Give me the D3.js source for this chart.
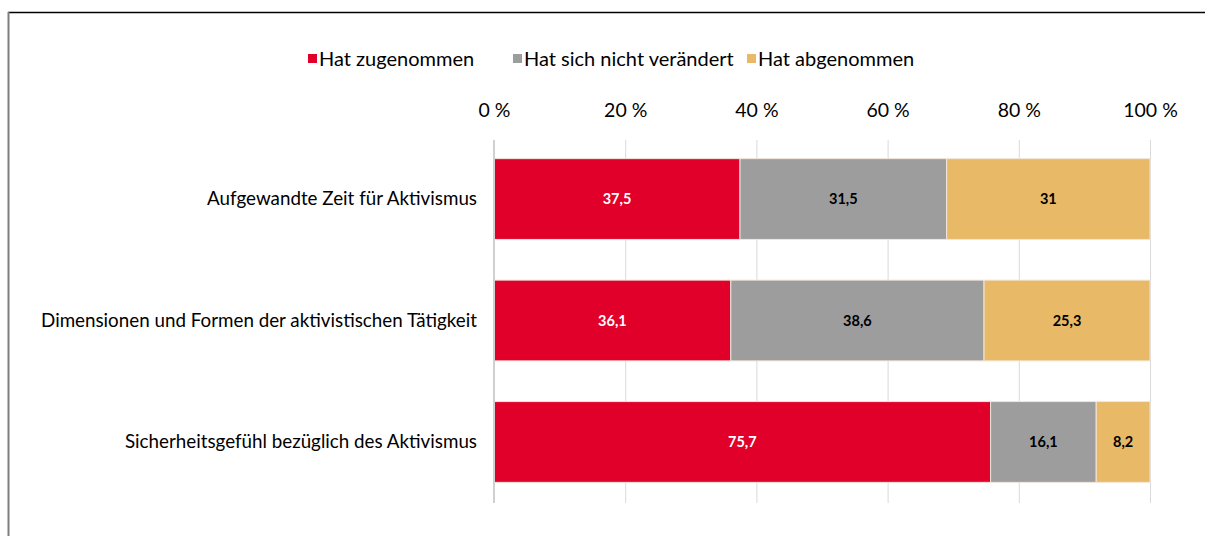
<!DOCTYPE html>
<html>
<head>
<meta charset="utf-8">
<script src="https://cdn.jsdelivr.net/npm/d3@7"></script>
<style>
  body { margin: 0; background: #fff; }
  svg { display: block; font-family: Lato, "Open Sans", sans-serif; }
</style>
</head>
<body>
<svg id="chart" width="1205" height="536"></svg>
<script>
// data
const categories = [
    'Aufgewandte Zeit für Aktivismus',
    'Dimensionen und Formen der aktivistischen Tätigkeit',
    'Sicherheitsgefühl bezüglich des Aktivismus'
]
const seriesNames = ['Hat zugenommen', 'Hat sich nicht verändert', 'Hat abgenommen']
const zugenommen = [37.5, 36.1, 75.7]
const nichtVeraendert = [31.5, 38.6, 16.1]
const abgenommen = [31, 25.3, 8.2]
const xTicks = [0, 20, 40, 60, 80, 100]

const colors = ['#e1002a', '#9d9d9e', '#e8b967']
const labelColors = ['#ffffff', '#000000', '#000000']

const rows = categories.map((c, i) => ({
    cat: c,
    [seriesNames[0]]: zugenommen[i],
    [seriesNames[1]]: nichtVeraendert[i],
    [seriesNames[2]]: abgenommen[i]
}))

const svg = d3.select('#chart')

// frame
svg.append('line')
    .attr('x1', 8).attr('x2', 1205).attr('y1', 12.5).attr('y2', 12.5)
    .style('stroke', '#000').style('stroke-width', 1.5)
svg.append('line')
    .attr('x1', 8.5).attr('x2', 8.5).attr('y1', 12).attr('y2', 536)
    .style('stroke', '#7f7f7f').style('stroke-width', 2)

const x = d3.scaleLinear().domain([0, 100]).range([494, 1150])
const y = d3.scaleBand().domain(categories).range([138, 503])
    .paddingInner(0.335).paddingOuter(0.17)

// gridlines
svg.append('g')
    .selectAll('line')
    .data(xTicks.slice(1))
    .join('line')
    .attr('x1', d => x(d) + 0.5).attr('x2', d => x(d) + 0.5)
    .attr('y1', 140).attr('y2', 503)
    .style('stroke', '#d9d9d9').style('stroke-width', 1)

// top axis labels
const xAxis = svg.append('g')
    .attr('transform', 'translate(0,120)')
    .call(d3.axisTop(x).tickValues(xTicks).tickSize(0).tickFormat(d => d + ' %'))
xAxis.attr('font-family', null).attr('font-size', null)
xAxis.select('.domain').remove()
xAxis.selectAll('text')
    .style('font-size', '19.5px').style('fill', '#000')

// stacked bars
const stack = d3.stack().keys(seriesNames)
const layers = stack(rows)

const layerG = svg.append('g')
    .selectAll('g')
    .data(layers)
    .join('g')
    .style('fill', (d, i) => colors[i])

layerG.selectAll('rect')
    .data(d => d)
    .join('rect')
    .attr('x', d => x(d[0]))
    .attr('y', d => y(d.data.cat))
    .attr('width', d => x(d[1]) - x(d[0]))
    .attr('height', y.bandwidth())
    .style('stroke', '#f2e6dc')
    .style('stroke-width', 1)

layerG.selectAll('text')
    .data((d, i) => d.map(v => ({ v, i })))
    .join('text')
    .attr('x', d => (x(d.v[0]) + x(d.v[1])) / 2)
    .attr('y', d => y(d.v.data.cat) + y.bandwidth() / 2)
    .attr('dy', '0.35em')
    .attr('text-anchor', 'middle')
    .style('font-size', '14.5px')
    .style('font-weight', 'bold')
    .style('fill', d => labelColors[d.i])
    .text(d => String(+(d.v[1] - d.v[0]).toFixed(1)).replace('.', ','))

// left axis line
svg.append('line')
    .attr('x1', 494).attr('x2', 494).attr('y1', 140).attr('y2', 503)
    .style('stroke', '#d0d0d0').style('stroke-width', 2)

// category labels
const yAxis = svg.append('g')
    .attr('transform', 'translate(477,0)')
    .call(d3.axisLeft(y).tickSize(0).tickPadding(0))
yAxis.attr('font-family', null).attr('font-size', null)
yAxis.select('.domain').remove()
yAxis.selectAll('text')
    .style('font-size', '18.8px').style('fill', '#000')

// legend
const legendX = [308, 513, 747]
const legend = svg.append('g')
    .selectAll('g')
    .data(seriesNames)
    .join('g')
    .attr('transform', (d, i) => `translate(${legendX[i]},59)`)
legend.append('rect')
    .attr('x', 0).attr('y', -5).attr('width', 9).attr('height', 9)
    .style('fill', (d, i) => colors[i])
legend.append('text')
    .attr('x', 11).attr('dy', '0.35em')
    .style('font-size', '20px')
    .text(d => d)
</script>
</body>
</html>
